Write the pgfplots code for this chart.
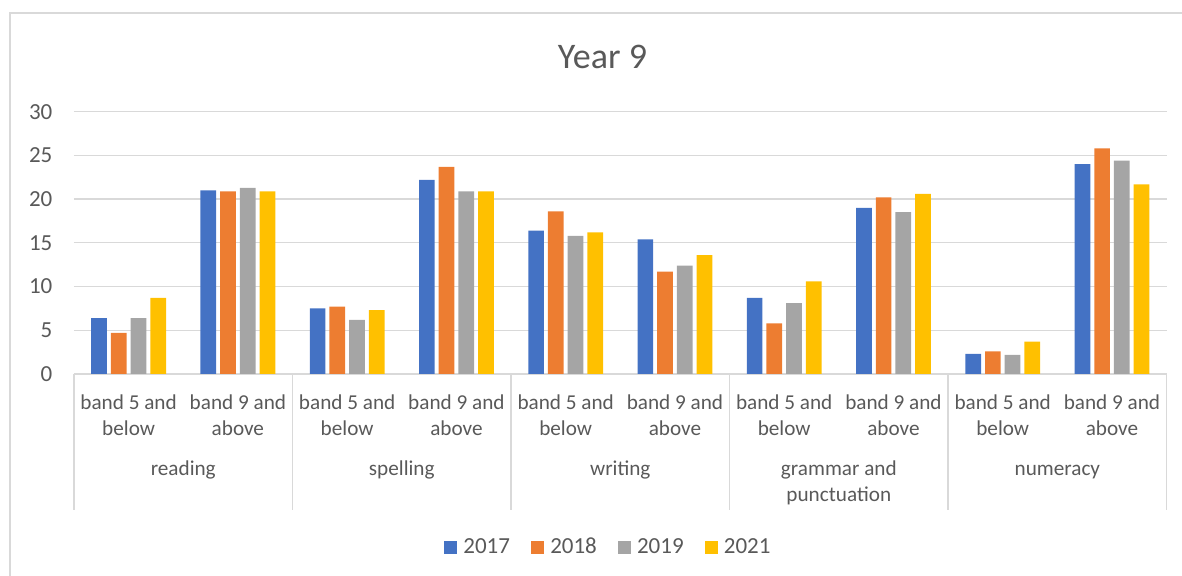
\documentclass[border=0pt]{standalone}
\usepackage{fontspec}
\setmainfont{Carlito}
\usepackage{pgfplots}
\pgfplotsset{compat=1.18}
\definecolor{c17}{HTML}{4472C4}
\definecolor{c18}{HTML}{ED7D31}
\definecolor{c19}{HTML}{A5A5A5}
\definecolor{c21}{HTML}{FFC000}
\definecolor{gridgray}{HTML}{D9D9D9}
\definecolor{textgray}{HTML}{595959}
\begin{document}
\begin{tikzpicture}
\useasboundingbox (-37pt,-101pt) rectangle (554pt,187pt);
\draw[gridgray, line width=0.65pt] (-32pt,-110pt) -- (-32pt,180.5pt) -- (570pt,180.5pt);
\node[anchor=base, text=textgray, font=\fontsize{18}{21}\selectfont] at (264.25pt,152.85pt) {Year 9};
\begin{axis}[
  at={(0,0)}, anchor=south west,
  scale only axis, width=546.3pt, height=131.15pt,
  xmin=-0.5, xmax=9.5, ymin=0, ymax=30,
  ybar=2pt, bar width=7.85pt,
  xtick={0,...,9},
  xticklabels={{band 5 and\\below},{band 9 and\\above},{band 5 and\\below},{band 9 and\\above},{band 5 and\\below},{band 9 and\\above},{band 5 and\\below},{band 9 and\\above},{band 5 and\\below},{band 9 and\\above}},
  xticklabel style={align=center, font=\fontsize{10.6}{13}\selectfont, text=textgray, yshift=-7pt},
  ytick={0,5,...,30},
  yticklabel style={font=\fontsize{11.5}{13}\selectfont, text=textgray, xshift=-7.3pt},
  /pgf/number format/assume math mode=true,
  axis line style={draw=none},
  major tick length=0pt,
  ymajorgrids, grid style={gridgray, line width=0.65pt},
  clip=false,
  legend columns=4,
  legend style={draw=none, fill=none, at={(0.49,-0.66)}, anchor=center,
    font=\fontsize{11.5}{13}\selectfont, text=textgray,
    /tikz/every odd column/.append style={column sep=1pt},
    /tikz/every even column/.append style={column sep=8.5pt}},
  legend image code/.code={\fill[#1] (0pt,-3.3pt) rectangle (6.6pt,3.3pt);},
]
\addplot[fill=c17, draw=none] coordinates {(0,6.4) (1,21.0) (2,7.5) (3,22.2) (4,16.4) (5,15.4) (6,8.7) (7,19.0) (8,2.3) (9,24.0)};
\addplot[fill=c18, draw=none] coordinates {(0,4.7) (1,20.9) (2,7.7) (3,23.7) (4,18.6) (5,11.7) (6,5.8) (7,20.2) (8,2.6) (9,25.8)};
\addplot[fill=c19, draw=none] coordinates {(0,6.4) (1,21.3) (2,6.2) (3,20.9) (4,15.8) (5,12.4) (6,8.1) (7,18.5) (8,2.2) (9,24.4)};
\addplot[fill=c21, draw=none] coordinates {(0,8.7) (1,20.9) (2,7.3) (3,20.9) (4,16.2) (5,13.6) (6,10.6) (7,20.6) (8,3.7) (9,21.7)};
\legend{2017,2018,2019,2021}
\pgfplotsinvokeforeach{-0.5,1.5,3.5,5.5,7.5,9.5}{
  \draw[gridgray, line width=0.65pt] (axis cs:#1,0) -- ([yshift=-68pt]axis cs:#1,0);
}
\node[anchor=base, text=textgray, font=\fontsize{10.6}{13}\selectfont] at ([yshift=-51pt]axis cs:0.5,0) {reading};
\node[anchor=base, text=textgray, font=\fontsize{10.6}{13}\selectfont] at ([yshift=-51pt]axis cs:2.5,0) {spelling};
\node[anchor=base, text=textgray, font=\fontsize{10.6}{13}\selectfont] at ([yshift=-51pt]axis cs:4.5,0) {writing};
\node[anchor=base, text=textgray, font=\fontsize{10.6}{13}\selectfont] at ([yshift=-51pt]axis cs:6.5,0) {grammar and};
\node[anchor=base, text=textgray, font=\fontsize{10.6}{13}\selectfont] at ([yshift=-64pt]axis cs:6.5,0) {punctuation};
\node[anchor=base, text=textgray, font=\fontsize{10.6}{13}\selectfont] at ([yshift=-51pt]axis cs:8.5,0) {numeracy};
\end{axis}
\end{tikzpicture}
\end{document}
